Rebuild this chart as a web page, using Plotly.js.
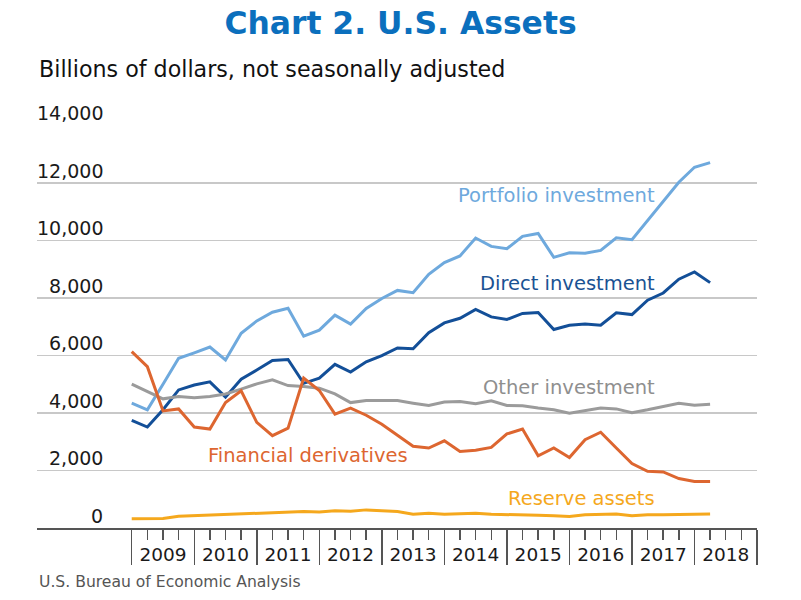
<!DOCTYPE html>
<html>
<head>
<meta charset="utf-8">
<script src="https://cdn.plot.ly/plotly-3.0.1.min.js"></script>
<style>html,body{margin:0;padding:0;background:#fff;}#chart{width:801px;height:600px;}</style>
</head>
<body>
<div id="chart"></div>
<script>
// Quarterly, 2009Q1 .. 2018Q2 (index 0..37)
const quarterIndex = Array.from({length: 38}, (_, i) => i);
const years = ["2009","2010","2011","2012","2013","2014","2015","2016","2017","2018"];

const portfolio = [4340,4110,5000,5900,6090,6290,5840,6770,7200,7500,7640,6670,6880,7400,7090,7630,7980,8260,8180,8820,9230,9460,10080,9790,9710,10140,10240,9410,9570,9550,9650,10090,10020,10690,11330,12020,12540,12700];
const direct = [3740,3510,4110,4800,4970,5080,4550,5170,5490,5820,5860,5030,5210,5690,5420,5780,5990,6260,6230,6790,7130,7290,7600,7340,7250,7460,7490,6900,7050,7090,7050,7480,7420,7920,8170,8650,8900,8530];
const other = [5000,4740,4490,4570,4530,4570,4660,4830,5010,5150,4950,4920,4860,4660,4360,4430,4430,4430,4340,4260,4380,4400,4320,4420,4260,4250,4170,4110,3990,4070,4170,4140,4010,4110,4220,4340,4270,4300];
const derivatives = [6130,5610,4070,4140,3510,3440,4360,4770,3670,3210,3470,5210,4780,3960,4170,3920,3610,3240,2840,2780,3030,2660,2700,2800,3270,3440,2510,2780,2450,3070,3330,2780,2240,1970,1950,1720,1620,1620];
const reserve = [320,320,330,410,430,440,470,490,510,540,550,570,560,600,580,630,600,570,480,510,480,500,510,480,460,440,440,430,400,460,480,490,430,460,460,480,480,490];

const yTicks = [0,2000,4000,6000,8000,10000,12000,14000];
const yTickText = ["0","2,000","4,000","6,000","8,000","10,000","12,000","14,000"];

const seriesNames = ["Portfolio investment","Direct investment","Other investment","Financial derivatives","Reserve assets"];
const seriesData = [portfolio, direct, other, derivatives, reserve];
const lineColors = ["#6ea9dd","#134f98","#9b9b9b","#dd6630","#f5a81d"];
const textColors = ["#6ea9dd","#1a5293","#8f8f8f","#dd6630","#f5a81d"];

const FONT = "DejaVu Sans, sans-serif";

const traces = seriesData.map((d, k) => ({
  x: quarterIndex, y: d, type: "scatter", mode: "lines", name: seriesNames[k],
  line: {color: lineColors[k], width: 3}, hoverinfo: "skip"
}));
// dummy trace for the year label axis
traces.push({x: [0], y: [0], xaxis: "x2", mode: "markers", marker: {opacity: 0}, hoverinfo: "skip", showlegend: false});

const majorTicks = [];
for (let v = 0; v <= 40; v += 4) majorTicks.push(v);
const minorTicks = [];
for (let v = 1; v < 40; v++) if (v % 4 !== 0) minorTicks.push(v);
const yearPos = years.map((_, i) => i * 4 + 2);

const annotations = [];
yTicks.forEach((v, i) => annotations.push({
  xref: "paper", yref: "y", x: 0.0944, y: v, xanchor: "right", yanchor: "bottom", yshift: -1,
  text: yTickText[i], showarrow: false, font: {family: FONT, size: 19, color: "#1a1a1a"}
}));
// series labels
const labelPos = [
  {x: 33.6, y: 11560, xa: "right"},
  {x: 33.6, y: 8510, xa: "right"},
  {x: 33.6, y: 4870, xa: "right"},
  {x: 11.25, y: 2510, xa: "center"},
  {x: 33.6, y: 1020, xa: "right"}
];
seriesNames.forEach((n, k) => annotations.push({
  xref: "x", yref: "y", x: labelPos[k].x, y: labelPos[k].y, xanchor: labelPos[k].xa, yanchor: "middle",
  text: n, showarrow: false, font: {family: FONT, size: 19.5, color: textColors[k]}
}));
annotations.push({
  xref: "paper", yref: "paper", x: 0, y: 1.14, xanchor: "left", yanchor: "middle",
  text: "Billions of dollars, not seasonally adjusted", showarrow: false,
  font: {family: FONT, size: 22.2, color: "#111"}
});
annotations.push({
  xref: "paper", yref: "paper", x: 0, y: -0.135, xanchor: "left", yanchor: "middle",
  text: "U.S. Bureau of Economic Analysis", showarrow: false,
  font: {family: FONT, size: 15.6, color: "#555"}
});

const layout = {
  width: 801, height: 600,
  margin: {l: 37, r: 44, t: 124.6, b: 71.5, pad: 0},
  paper_bgcolor: "#fff", plot_bgcolor: "#fff",
  showlegend: false,
  title: {text: "<b>Chart 2. U.S. Assets</b>", x: 0.5, xanchor: "center", y: 0.961, yanchor: "middle", yref: "container",
          font: {family: FONT, size: 31.4, color: "#0b6fbd"}},
  xaxis: {
    range: [-6.06, 40], showgrid: false, zeroline: false, showline: true, linecolor: "#555", linewidth: 1.5,
    tickmode: "array", tickvals: majorTicks, ticks: "outside", ticklen: 35, tickwidth: 1.5, tickcolor: "#555",
    showticklabels: false, fixedrange: true,
    minor: {tickmode: "array", tickvals: minorTicks, ticks: "outside", ticklen: 10, tickwidth: 1.5, tickcolor: "#555", showgrid: false}
  },
  xaxis2: {
    overlaying: "x", matches: "x", anchor: "y", side: "bottom", showgrid: false, zeroline: false, showline: false,
    tickmode: "array", tickvals: yearPos, ticktext: years, ticks: "", ticklabelstandoff: 13,
    tickfont: {family: FONT, size: 18.5, color: "#1a1a1a"}
  },
  yaxis: {
    range: [0, 14010], tickmode: "array", tickvals: yTicks, showticklabels: false, ticks: "",
    showgrid: true, gridcolor: "#c8c8c8", gridwidth: 1.5, zeroline: false, showline: false, fixedrange: true
  },
  annotations: annotations
};

Plotly.newPlot("chart", traces, layout, {displayModeBar: false, staticPlot: true});
</script>
</body>
</html>
